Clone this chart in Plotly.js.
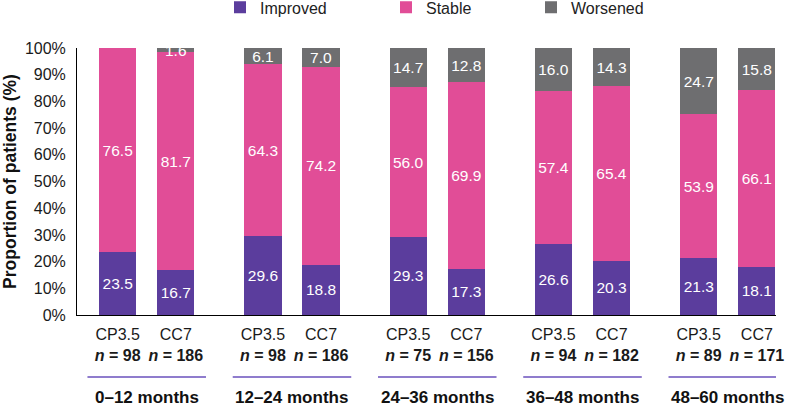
<!DOCTYPE html>
<html>
<head>
<meta charset="utf-8">
<script src="https://cdn.plot.ly/plotly-3.0.1.min.js"></script>
<style>html,body{margin:0;padding:0;background:#fff;}#chart{width:796px;height:409px;}</style>
</head>
<body>
<div id="chart"></div>
<script>
// ---- data ----
const groups = ['0–12 months', '12–24 months', '24–36 months', '36–48 months', '48–60 months'];
const arms = ['CP3.5', 'CC7'];
const nValues = [98, 186, 98, 186, 75, 156, 94, 182, 89, 171];
const improved = [23.5, 16.7, 29.6, 18.8, 29.3, 17.3, 26.6, 20.3, 21.3, 18.1];
const stable   = [76.5, 81.7, 64.3, 74.2, 56.0, 69.9, 57.4, 65.4, 53.9, 66.1];
const worsened = [0, 1.6, 6.1, 7.0, 14.7, 12.8, 16.0, 14.3, 24.7, 15.8];
const seriesNames = ['Improved', 'Stable', 'Worsened'];

// ---- layout helpers ----
const FONT = 'Liberation Sans, Arial, Helvetica, sans-serif';
const colors = ['#5b3d9d', '#e14d97', '#6e6e70'];
const groupStep = 2.5;
const xPos = nValues.map((_, i) => Math.floor(i / 2) * groupStep + (i % 2));
const tickText = nValues.map((n, i) => arms[i % 2] + '<br><b><i>n</i> = ' + n + '</b>');
const groupStart = groups.map((_, g) => g * groupStep);

const seriesData = [improved, stable, worsened];
const legendIds = ['legend', 'legend2', 'legend3'];
const traces = seriesData.map((vals, k) => ({
  type: 'bar',
  name: seriesNames[k],
  x: xPos,
  y: vals,
  width: 0.64,
  marker: {color: colors[k], line: {width: 0}},
  text: vals.map(v => v > 0 ? v.toFixed(1) : ''),
  textposition: 'inside',
  insidetextanchor: 'middle',
  textangle: 0,
  constraintext: 'none',
  textfont: {family: FONT, size: 15.5, color: '#ffffff'},
  hoverinfo: 'skip',
  legend: legendIds[k]
}));

const legendX = [220, 386, 531];
const legendBase = {
  orientation: 'h', xref: 'container', yref: 'container',
  y: 0.982, yanchor: 'middle', xanchor: 'left',
  font: {family: FONT, size: 16, color: '#222'},
  bgcolor: 'rgba(0,0,0,0)'
};
const layout = {
  width: 796, height: 409,
  margin: {l: 77, r: 20, t: 48, b: 94, pad: 0},
  paper_bgcolor: '#fff', plot_bgcolor: '#fff',
  barmode: 'stack',
  showlegend: true,
  legend:  Object.assign({}, legendBase, {x: legendX[0] / 796}),
  legend2: Object.assign({}, legendBase, {x: legendX[1] / 796}),
  legend3: Object.assign({}, legendBase, {x: legendX[2] / 796}),
  font: {family: FONT, color: '#222'},
  xaxis: {
    range: [-0.70, 11.33],
    tickmode: 'array', tickvals: xPos, ticktext: tickText,
    showline: true, linecolor: '#000', linewidth: 1,
    ticks: '', showgrid: false, zeroline: false,
    tickfont: {family: FONT, size: 16, color: '#1a1a1a'},
    ticklabelstandoff: 5,
    automargin: false, fixedrange: true
  },
  yaxis: {
    range: [0, 100], dtick: 10, ticksuffix: '%',
    showline: true, linecolor: '#000', linewidth: 1,
    ticks: '', showgrid: false, zeroline: false,
    tickfont: {family: FONT, size: 16, color: '#1a1a1a'},
    ticklabelstandoff: 7,
    title: {text: '<b>Proportion of patients (%)</b>', font: {family: FONT, size: 17.5, color: '#111'}, standoff: 3},
    automargin: false, fixedrange: true
  },
  shapes: groupStart.map(gx => ({
    type: 'line', xref: 'x', yref: 'paper',
    x0: gx - 0.52, x1: gx + 1.52, y0: -0.232, y1: -0.232,
    line: {color: '#6a50bd', width: 1.5}
  })),
  annotations: groups.map((g, i) => ({
    text: '<b>' + g + '</b>', xref: 'x', yref: 'paper',
    x: groupStart[i] + 0.5, y: -0.31, yanchor: 'middle', xanchor: 'center',
    showarrow: false, font: {family: FONT, size: 17, color: '#111'}
  }))
};

Plotly.newPlot('chart', traces, layout, {displayModeBar: false, staticPlot: true});
</script>
</body>
</html>
